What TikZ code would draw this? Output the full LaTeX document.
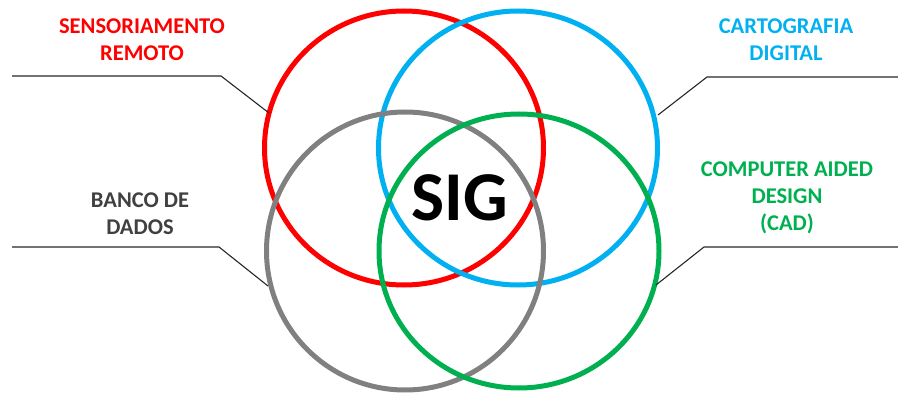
\documentclass[tikz,border=0pt]{standalone}
\usepackage{fontspec}
\setmainfont{Carlito}
\definecolor{cred}{HTML}{FF0000}
\definecolor{cblue}{HTML}{00B0F0}
\definecolor{cgray}{HTML}{808080}
\definecolor{cgreen}{HTML}{00B050}
\definecolor{ctext}{HTML}{404040}
\begin{document}
\begin{tikzpicture}[x=1pt,y=-1pt,
  ring/.style={line width=5pt},
  lbl/.style={font=\fontsize{22.5}{27}\selectfont\bfseries, align=center, anchor=base, inner sep=0pt},
  leader/.style={line width=1.1pt, black!85}]
\useasboundingbox (0,0) rectangle (898,396);
% circles
\draw[ring, cred]   (404,148) ellipse [x radius=139.5, y radius=137];
\draw[ring, cblue]  (518,148) ellipse [x radius=139.5, y radius=137];
\draw[ring, cgray]  (405,251) ellipse [x radius=138.5, y radius=139];
\draw[ring, cgreen] (519,251) ellipse [x radius=140, y radius=137];
% centre label
\node[font=\fontsize{70}{80}\selectfont\bfseries, anchor=base, inner sep=0pt] (sig) at (460,220) {SIG};
% labels (anchor = baseline of the last line)
\node[lbl, text=cred]   (sr)  at (142,61)  {SENSORIAMENTO\\REMOTO};
\node[lbl, text=cblue]  (cd)  at (786,61)  {CARTOGRAFIA\\DIGITAL};
\node[lbl, text=ctext]  (bd)  at (140,234) {BANCO DE\\DADOS};
\node[lbl, text=cgreen] (cad) at (787,230) {COMPUTER AIDED\\DESIGN\\(CAD)};
% leader coordinates
\coordinate (tl0) at (12,76);   \coordinate (tl1) at (221,76);  \coordinate (tl2) at (269,113);
\coordinate (bl0) at (12,247);  \coordinate (bl1) at (219,247); \coordinate (bl2) at (268,286);
\coordinate (tr0) at (898,77);  \coordinate (tr1) at (707,77);  \coordinate (tr2) at (658,115);
\coordinate (br0) at (898,247); \coordinate (br1) at (704,247); \coordinate (br2) at (656,285);
\draw[leader] (tl0) -- (tl1) -- (tl2);
\draw[leader] (bl0) -- (bl1) -- (bl2);
\draw[leader] (tr0) -- (tr1) -- (tr2);
\draw[leader] (br0) -- (br1) -- (br2);
\end{tikzpicture}
\end{document}
